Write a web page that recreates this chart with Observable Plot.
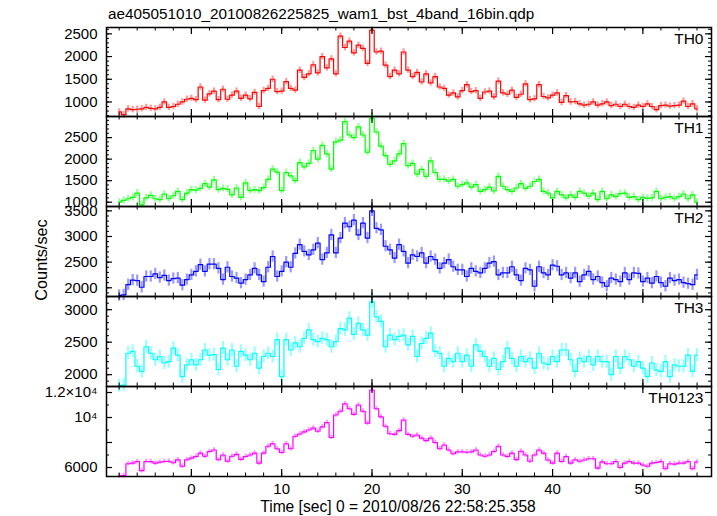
<!DOCTYPE html>
<html><head><meta charset="utf-8">
<script src="https://cdn.jsdelivr.net/npm/d3@7"></script>
<script src="https://cdn.jsdelivr.net/npm/@observablehq/plot@0.6"></script>
<style>
body{margin:0;background:#fff;}
#chart{position:relative;width:717px;height:516px;background:#fff;overflow:hidden;font-family:"Liberation Sans",Arial,Helvetica,sans-serif;}
</style></head><body><div id="chart"></div>
<script>
// ---- data (bin centre times in s, counts/sec) ----
const times = [-8,-7.5,-7,-6.5,-6,-5.5,-5,-4.5,-4,-3.5,
 -3,-2.5,-2,-1.5,-1,-0.5,0,0.5,1,1.5,
 2,2.5,3,3.5,4,4.5,5,5.5,6,6.5,
 7,7.5,8,8.5,9,9.5,10,10.5,11,11.5,
 12,12.5,13,13.5,14,14.5,15,15.5,16,16.5,
 17,17.5,18,18.5,19,19.5,20,20.5,21,21.5,
 22,22.5,23,23.5,24,24.5,25,25.5,26,26.5,
 27,27.5,28,28.5,29,29.5,30,30.5,31,31.5,
 32,32.5,33,33.5,34,34.5,35,35.5,36,36.5,
 37,37.5,38,38.5,39,39.5,40,40.5,41,41.5,
 42,42.5,43,43.5,44,44.5,45,45.5,46,46.5,
 47,47.5,48,48.5,49,49.5,50,50.5,51,51.5,
 52,52.5,53,53.5,54,54.5,55,55.5,56];

const th0 = [780,720,850,830,840,850,880,860,850,880,
 1000,880,900,950,1000,1060,1080,1050,1330,1040,
 1180,1240,1050,1280,1060,1150,1240,1080,1150,1070,
 1210,900,1250,1300,1500,1230,1240,1450,1300,1260,
 1700,1540,1620,1820,1640,2000,1750,1950,1620,2450,
 2200,2340,2080,2250,2180,1850,2580,2100,2120,1810,
 1560,1700,1620,2100,1700,1560,1650,1440,1620,1420,
 1560,1330,1300,1150,1200,1110,1250,1380,1230,1250,
 1080,1220,1240,1110,1460,1200,1170,1260,1100,1170,
 1400,1050,1070,1380,1120,1090,1150,1200,990,1140,
 1000,1010,960,930,950,1000,930,960,1000,920,
 950,900,950,900,880,930,900,960,900,830,
 920,930,910,920,930,1020,900,960,850];

const th1 = [1000,1040,1080,1110,1210,940,1100,1160,1080,1060,
 1190,1080,1150,1250,1060,1210,1290,1280,1320,1430,
 1350,1520,1290,1320,1300,1170,1330,1110,1450,1270,
 1290,1270,1340,1530,1770,1700,1270,1690,1610,1500,
 1920,1820,1900,2200,2000,2320,2120,1770,2400,2440,
 2870,2560,2500,2750,2560,2160,2950,2630,2300,2080,
 1880,1960,2120,2360,1850,1900,1650,1760,1600,1960,
 1690,1530,1530,1490,1530,1370,1410,1450,1350,1410,
 1250,1290,1350,1260,1600,1370,1290,1250,1330,1430,
 1320,1370,1480,1530,1250,1210,1100,1250,1170,1100,
 1170,1110,1250,1210,1140,1210,1060,1250,1080,1170,
 1130,1200,1210,1110,1130,1060,1110,1090,1100,1250,
 1080,1110,1130,1080,1130,1190,1080,1170,1000];

const th2 = [1850,1860,2060,2150,2140,2010,2220,2220,2270,2200,
 2240,2140,2180,2190,2050,2160,2250,2320,2450,2320,
 2460,2460,2380,2160,2400,2220,2190,2090,2160,2250,
 2380,2250,2120,2400,2610,2220,2320,2500,2400,2670,
 2840,2710,2640,2740,2870,2550,2680,3030,2680,2970,
 3260,3190,3320,3030,3260,2970,3500,3160,3130,2810,
 2740,2580,2840,2710,2480,2640,2610,2680,2480,2610,
 2550,2380,2480,2550,2410,2350,2350,2220,2380,2320,
 2290,2380,2480,2510,2250,2290,2290,2410,2250,2140,
 2380,2350,2030,2410,2290,2250,2440,2420,2250,2290,
 2190,2290,2120,2250,2320,2160,2220,2100,2030,2190,
 2160,2120,2290,2160,2290,2280,2120,2190,2090,2220,
 2100,2030,2190,2140,2160,2100,2080,2060,2250];

const th3 = [1830,1840,2330,2360,2130,2050,2430,2330,2230,2280,
 2180,2200,2410,2300,1970,2150,2230,2150,2230,2380,
 2300,2310,2080,2410,2230,2380,2130,2360,2300,2230,
 2330,2100,2280,2330,2280,2540,1970,2540,2380,2490,
 2430,2560,2690,2540,2510,2560,2540,2430,2510,2710,
 2690,2870,2620,2790,2690,2610,3120,2890,2820,2430,
 2610,2540,2590,2610,2460,2590,2280,2480,2560,2640,
 2360,2330,2130,2250,2200,2330,2200,2300,2130,2460,
 2360,2280,2130,2250,2080,2200,2410,2250,2130,2280,
 2200,2250,2100,2330,2180,2160,2280,2200,2380,2380,
 2230,2050,2250,2200,2280,2150,2280,2200,2200,2000,
 2280,2100,2280,2230,2130,2200,2100,1970,2180,2070,
 2050,2200,1970,2150,2130,2130,2300,2050,2300];

const th0123 = [5330,5350,6300,6350,6480,5750,6480,6470,6350,6430,
 6480,6500,6380,6610,6100,6620,6750,6880,7150,6900,
 7280,7400,6620,7000,6500,6900,7050,6650,6880,7000,
 7150,6350,7150,7700,7900,7500,7200,7900,7500,8500,
 8680,8850,9000,9150,8900,9250,9600,8400,10200,10500,
 11100,10700,10250,11000,10500,9550,12200,10700,10050,9300,
 8700,8650,8950,9800,8650,8500,8600,8350,8150,8350,
 8000,7500,7800,7400,7100,7250,7250,7220,7250,7400,
 7000,6900,7000,7280,7700,7000,6880,7150,6630,7300,
 7000,6500,7000,7400,7150,6600,6350,7150,6480,6880,
 6350,6620,6500,6600,6700,6700,5950,6450,6300,6300,
 6480,6000,6350,6480,6350,6350,6200,6100,6350,6400,
 6480,5900,6300,6270,6350,6350,6480,5900,6450];

// half-length of the error bars per panel (counts/sec)
const errHalf = [70, 80, 110, 100, 180];

const panelNames = ["TH0", "TH1", "TH2", "TH3", "TH0123"];
const series = [th0, th1, th2, th3, th0123];

// axis ticks / labels
const xMajorTicks = [0, 10, 20, 30, 40, 50];
const xTickLabels = ["0", "10", "20", "30", "40", "50"];
const yMajorTicks = [[1000,1500,2000,2500],[1000,1500,2000,2500],[2000,2500,3000,3500],[2000,2500,3000],[6000,8000,10000,12000]];
const yLabelValues = [[1000,1500,2000,2500],[1000,1500,2000,2500],[2000,2500,3000,3500],[2000,2500,3000],[6000,10000,12000]];
const yLabelTexts = [["1000","1500","2000","2500"],["1000","1500","2000","2500"],["2000","2500","3000","3500"],["2000","2500","3000"],["6000","10\u2074","1.2\u00d710\u2074"]];
const titleText = "ae405051010_20100826225825_wam1_bst_4band_16bin.qdp";
const xLabelText = "Time [sec] 0 = 2010/08/26 22:58:25.358";
const yLabelText = "Counts/sec";

// ---- presentation ----
const colors = ["#ff0000", "#00ff00", "#0000ff", "#00ffff", "#ff00ff"];
const yDomains = [[680, 2640], [900, 2990], [1830, 3585], [1818, 3203], [5280, 12480]];
const yMinorStep = [100, 100, 100, 100, 1000];
const xDomain = [-9.4, 57.6];
const frameTops = [27, 116, 206, 296, 386];
const frameBottom = 476;
const W = 717, ML = 106, MR = 6, MT = 14;
const FONT = '"Liberation Sans", Arial, Helvetica, sans-serif';

const chart = document.getElementById("chart");

// text layer
const ns = "http://www.w3.org/2000/svg";
const txt = document.createElementNS(ns, "svg");
txt.setAttribute("width", W); txt.setAttribute("height", 516);
txt.style.position = "absolute"; txt.style.left = "0px"; txt.style.top = "0px";
function addText(s, attrs) {
  const t = document.createElementNS(ns, "text");
  for (const k in attrs) t.setAttribute(k, attrs[k]);
  t.textContent = s;
  txt.appendChild(t);
}
addText(titleText, {x: 108, y: 19, "font-size": 15.3, "font-family": FONT, fill: "#000"});
addText(xLabelText, {x: 398, y: 512, "font-size": 15.6, "font-family": FONT, fill: "#000", "text-anchor": "middle"});
addText(yLabelText, {transform: "translate(47,260) rotate(-90)", "font-size": 16.3, "font-family": FONT, fill: "#000", "text-anchor": "middle"});
chart.appendChild(txt);

const xMinorTicks = d3.range(-8, 57, 2);

series.forEach((vals, i) => {
  const data = times.map((t, j) => ({t, v: vals[j]}));
  const e = errHalf[i];
  const top = frameTops[i];
  const bottom = i < 4 ? frameTops[i + 1] : frameBottom;
  const fh = bottom - top;
  const mb = i === 4 ? 30 : 14;
  const H = fh + MT + mb;
  const pw = W - ML - MR;
  const [lo, hi] = yDomains[i];
  const st = yMinorStep[i];
  const yMinor = d3.range(Math.ceil(lo / st) * st, hi, st);
  const labelMap = new Map(yLabelValues[i].map((v, k) => [v, yLabelTexts[i][k]]));
  const xLabMap = new Map(xMajorTicks.map((v, k) => [v, xTickLabels[k]]));
  const marks = [
    Plot.ruleX(data, {x: "t", y1: d => d.v - e, y2: d => d.v + e, stroke: colors[i], strokeOpacity: 0.4, strokeWidth: 2.2}),
    Plot.line(data, {x: "t", y: "v", curve: "step", stroke: colors[i], strokeWidth: 1.2}),
    Plot.frame({stroke: "#000", strokeWidth: 1.5}),
    // y ticks (inward) left & right
    Plot.tickY(yMajorTicks[i], {y: d => d, insetRight: pw - 6, stroke: "#000", strokeWidth: 1.2}),
    Plot.tickY(yMajorTicks[i], {y: d => d, insetLeft: pw - 6, stroke: "#000", strokeWidth: 1.2}),
    Plot.tickY(yMinor, {y: d => d, insetRight: pw - 3, stroke: "#000", strokeWidth: 1}),
    Plot.tickY(yMinor, {y: d => d, insetLeft: pw - 3, stroke: "#000", strokeWidth: 1}),
    // x ticks (inward) top & bottom
    Plot.tickX(xMajorTicks, {x: d => d, insetBottom: fh - 7, stroke: "#000", strokeWidth: 1.2}),
    Plot.tickX(xMajorTicks, {x: d => d, insetTop: fh - 7, stroke: "#000", strokeWidth: 1.2}),
    Plot.tickX(xMinorTicks, {x: d => d, insetBottom: fh - 3.5, stroke: "#000", strokeWidth: 1}),
    Plot.tickX(xMinorTicks, {x: d => d, insetTop: fh - 3.5, stroke: "#000", strokeWidth: 1}),
    Plot.text(yLabelValues[i], {y: d => d, frameAnchor: "left", dx: -9, textAnchor: "end", lineAnchor: "middle", text: d => labelMap.get(d), fill: "#000", fontSize: 15}),
    Plot.text([panelNames[i]], {frameAnchor: "top-right", dx: -8, dy: 12, textAnchor: "end", lineAnchor: "middle", text: d => d, fill: "#000", fontSize: 15.5})
  ];
  if (i === 4) {
    marks.push(Plot.text(xMajorTicks, {x: d => d, frameAnchor: "bottom", dy: 13, lineAnchor: "middle", text: d => xLabMap.get(d), fill: "#000", fontSize: 15}));
  }
  const svg = Plot.plot({
    width: W, height: H,
    marginLeft: ML, marginRight: MR, marginTop: MT, marginBottom: mb,
    x: {domain: xDomain, axis: null},
    y: {domain: yDomains[i], axis: null},
    style: {background: "transparent", overflow: "visible", fontFamily: FONT, fontSize: "15px", color: "#000"},
    marks
  });
  svg.style.position = "absolute";
  svg.style.left = "0px";
  svg.style.top = (top - MT) + "px";
  svg.style.maxWidth = "none";
  chart.appendChild(svg);
});
</script>
</body></html>
